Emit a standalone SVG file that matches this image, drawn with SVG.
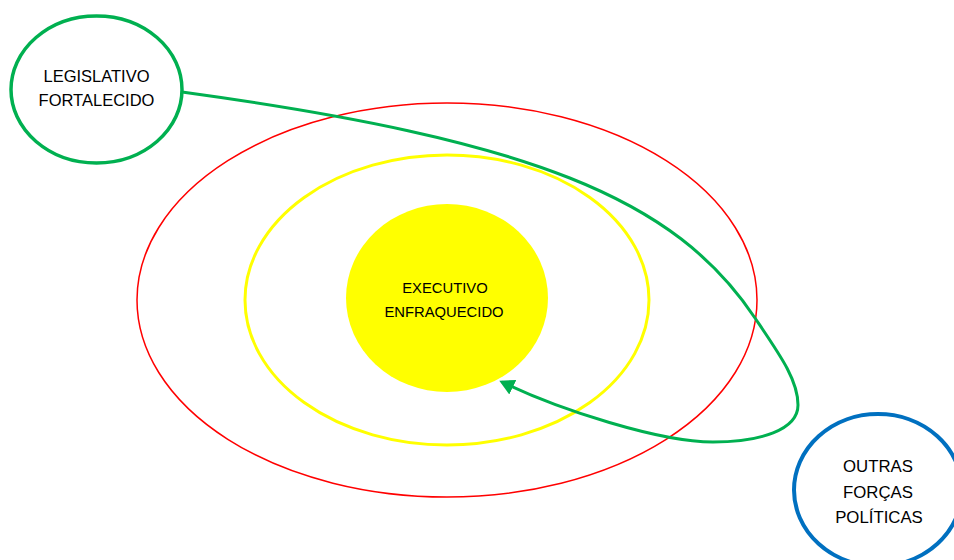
<svg xmlns="http://www.w3.org/2000/svg" width="954" height="560" viewBox="0 0 954 560">
<style>
.t{font-family:"Liberation Sans",Arial,sans-serif;fill:#000;text-anchor:middle}
</style>
<defs>
<marker id="ah" markerWidth="6" markerHeight="6" refX="4" refY="3" orient="auto" markerUnits="strokeWidth">
<path d="M0,0.3 L5,3 L0,5.7 z" fill="#00B050"/>
</marker>
</defs>
<rect width="954" height="560" fill="#fff"/>
<g id="outer-ring"><ellipse cx="447" cy="300" rx="310" ry="197" fill="none" stroke="#FF0000" stroke-width="1.5"/></g>
<g id="inner-ring"><ellipse cx="447" cy="300" rx="202" ry="145" fill="none" stroke="#FFFF00" stroke-width="3"/></g>
<g id="executivo">
<ellipse cx="447" cy="298" rx="101" ry="94" fill="#FFFF00"/>
<text class="t" x="445" y="293" font-size="14.8">EXECUTIVO</text>
<text class="t" x="444" y="317" font-size="14.8">ENFRAQUECIDO</text>
</g>
<g id="legislativo">
<ellipse cx="96.5" cy="89.5" rx="85.5" ry="73.5" fill="#fff" stroke="#00B050" stroke-width="3.5"/>
<text class="t" x="96.5" y="82" font-size="16.5">LEGISLATIVO</text>
<text class="t" x="96.5" y="106" font-size="16.5">FORTALECIDO</text>
</g>
<g id="outras">
<ellipse cx="878" cy="490" rx="84" ry="76" fill="#fff" stroke="#0070C0" stroke-width="4"/>
<text class="t" x="878" y="472" font-size="16.8">OUTRAS</text>
<text class="t" x="878" y="498" font-size="16.8">FORÇAS</text>
<text class="t" x="879" y="523" font-size="16.8">POLÍTICAS</text>
</g>
<g id="connectors">
<path d="M182,92 C532,140 675,198 755,318 C780,355 798,380 798,405 C798,430 760,442 713,442 C660,442 560,410 502,382" fill="none" stroke="#00B050" stroke-width="3" marker-end="url(#ah)"/>
</g>
</svg>
